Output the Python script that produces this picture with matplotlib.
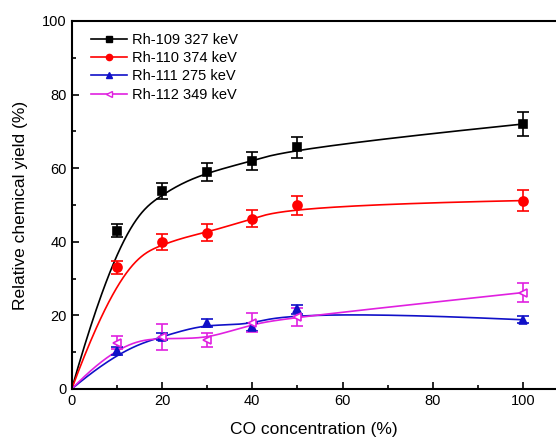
import numpy as np
import matplotlib
matplotlib.use('Agg')
from matplotlib import pyplot as plt
from matplotlib.ticker import MultipleLocator

plt.rcParams['font.family'] = ['Liberation Sans', 'DejaVu Sans']

co = [10, 20, 30, 40, 50, 100]

rh109 = [43.0, 53.7, 58.9, 61.9, 65.7, 72.0]
rh109_err = [1.8, 2.2, 2.5, 2.4, 2.8, 3.2]
rh110 = [33.1, 39.9, 42.5, 46.3, 49.9, 51.2]
rh110_err = [1.8, 2.1, 2.3, 2.4, 2.6, 2.8]
rh111 = [10.3, 14.2, 17.9, 16.9, 21.6, 18.8]
rh111_err = [1.0, 1.0, 1.1, 1.1, 1.2, 1.0]
rh112 = [12.6, 14.1, 13.3, 18.0, 19.6, 26.2]
rh112_err = [1.8, 3.5, 1.8, 2.6, 2.4, 2.7]

labels = ['Rh-109 327 keV', 'Rh-110 374 keV', 'Rh-111 275 keV', 'Rh-112 349 keV']


def bspline(px, py, n=400):
    # clamped cubic B-spline with the points as control points (origin's "B-spline" line)
    pts = np.column_stack([px, py]).astype(float)
    k = 3
    m = len(pts)
    inner = np.linspace(0, 1, m - k + 1)
    t = np.concatenate([[0] * k, inner, [1] * k])
    u = np.linspace(0, 1, n)
    u[-1] = 1 - 1e-12
    out = []
    for uu in u:
        # Cox-de Boor
        N = np.array([1.0 if t[i] <= uu < t[i + 1] else 0.0 for i in range(len(t) - 1)])
        for d in range(1, k + 1):
            Nn = np.zeros(len(t) - 1 - d)
            for i in range(len(Nn)):
                a = 0.0
                if t[i + d] != t[i]:
                    a += (uu - t[i]) / (t[i + d] - t[i]) * N[i]
                if t[i + d + 1] != t[i + 1]:
                    a += (t[i + d + 1] - uu) / (t[i + d + 1] - t[i + 1]) * N[i + 1]
                Nn[i] = a
            N = Nn
        out.append(N @ pts)
    out = np.array(out)
    return out[:, 0], out[:, 1]


fig = plt.figure(figsize=(5.56, 4.42), dpi=100)
ax = fig.add_axes([0.129, 0.120, 0.871, 0.8325])

series = [
    (rh109, rh109_err, 'black', 's', 'black'),
    (rh110, rh110_err, 'red', 'o', 'red'),
    (rh111, rh111_err, '#1010c8', '^', '#1010c8'),
    (rh112, rh112_err, '#e020e0', '<', 'white'),
]

for (y, e, c, mk, fc), lab in zip(series, labels):
    bx, by = bspline([0] + co, [0] + y)
    ax.plot(bx, by, color=c, lw=1.2, zorder=2)
    ax.errorbar(co, y, yerr=e, fmt=mk, color=c, mfc=fc, mec=c, ms=6 if mk != 'o' else 6.5,
                mew=1.2, elinewidth=1.2, capsize=4, capthick=1.2, zorder=3)
    ax.plot([], [], color=c, marker=mk, mfc=fc, mec=c, ms=4.5, lw=1.2, label=lab)

ax.set_xlim(0, 107.3)
ax.set_ylim(0, 100)
ax.xaxis.set_major_locator(MultipleLocator(20))
ax.xaxis.set_minor_locator(MultipleLocator(10))
ax.yaxis.set_major_locator(MultipleLocator(20))
ax.yaxis.set_minor_locator(MultipleLocator(10))
ax.tick_params(which='both', direction='in', labelsize=10.5, width=1.2)
ax.tick_params(which='major', length=5)
ax.tick_params(which='minor', length=3)
ax.spines['right'].set_visible(False)
for s in ['left', 'bottom', 'top']:
    ax.spines[s].set_linewidth(1.5)

ax.set_xlabel('CO concentration (%)', fontsize=12.5, labelpad=10)
ax.set_ylabel('Relative chemical yield (%)', fontsize=12.5, labelpad=10)

ax.legend(loc='upper left', frameon=False, fontsize=10.5, handlelength=2.5,
          handletextpad=0.35, labelspacing=0.3, borderaxespad=0.4,
          bbox_to_anchor=(0.015, 1.0))

fig.savefig('out.png', dpi=100)
